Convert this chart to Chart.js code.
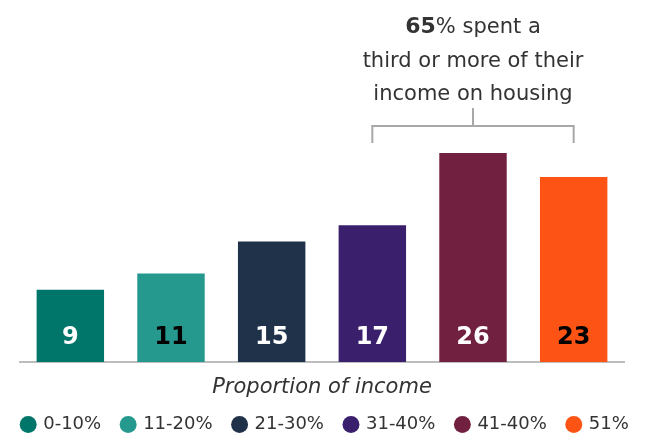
<!DOCTYPE html>
<html>
<head>
<meta charset="utf-8">
<script src="https://cdn.jsdelivr.net/npm/chart.js@4/dist/chart.umd.min.js"></script>
<style>
  html, body { margin: 0; padding: 0; background: #fff; }
  #wrap { width: 651px; height: 435px; position: relative; }
</style>
</head>
<body>
<div id="wrap"><canvas id="c"></canvas></div>
<script>
// ---- data ----
const categories = ['0-10%', '11-20%', '21-30%', '31-40%', '41-40%', '51%'];
const shares = [9, 11, 15, 17, 26, 23];
const highlightValue = '65';
const highlightLines = ['% spent a', 'third or more of their', 'income on housing'];
const highlightFrom = 3, highlightMid = 4, highlightTo = 5;
const axisTitle = 'Proportion of income';

// ---- styles ----
const barColors = ['#00766A', '#26998F', '#1F3249', '#3A1F6D', '#72203F', '#FD5416'];
const labelColors = ['#ffffff', '#000000', '#ffffff', '#ffffff', '#ffffff', '#000000'];
const FONT = '"DejaVu Sans", sans-serif';
const TEXT = '#333333';

const annotationPlugin = {
  id: 'annot',
  afterDatasetsDraw(chart) {
    const ctx = chart.ctx;
    const meta = chart.getDatasetMeta(0);
    // value labels
    ctx.save();
    ctx.font = 'bold 24px ' + FONT;
    ctx.textAlign = 'center';
    ctx.textBaseline = 'alphabetic';
    meta.data.forEach((bar, i) => {
      ctx.fillStyle = labelColors[i];
      ctx.fillText(String(shares[i]), bar.x, bar.base - 18);
    });
    ctx.restore();

    // bracket
    const xs = chart.scales.x;
    const top = chart.chartArea.top;
    const x1 = xs.getPixelForValue(highlightFrom);
    const x2 = xs.getPixelForValue(highlightTo);
    const xm = xs.getPixelForValue(highlightMid);
    ctx.save();
    ctx.strokeStyle = '#a8a8a8';
    ctx.lineWidth = 2;
    ctx.beginPath();
    ctx.moveTo(x1, top - 10);
    ctx.lineTo(x1, top - 27);
    ctx.lineTo(x2, top - 27);
    ctx.lineTo(x2, top - 10);
    ctx.moveTo(xm, top - 27);
    ctx.lineTo(xm, top - 45);
    ctx.stroke();
    ctx.restore();

    // text
    ctx.save();
    ctx.fillStyle = TEXT;
    ctx.textBaseline = 'alphabetic';
    ctx.textAlign = 'left';
    const boldFont = 'bold 22px ' + FONT;
    const regFont = '21px ' + FONT;
    ctx.font = boldFont;
    const wb = ctx.measureText(highlightValue).width;
    ctx.font = regFont;
    const wr = ctx.measureText(highlightLines[0]).width;
    let sx = xm - (wb + wr) / 2;
    ctx.font = boldFont;
    ctx.fillText(highlightValue, sx, top - 120);
    ctx.font = regFont;
    ctx.fillText(highlightLines[0], sx + wb, top - 120);
    ctx.textAlign = 'center';
    ctx.fillText(highlightLines[1], xm, top - 86);
    ctx.fillText(highlightLines[2], xm, top - 53);
    ctx.restore();
  }
};

new Chart(document.getElementById('c'), {
  type: 'bar',
  data: {
    labels: categories,
    datasets: [{
      data: shares,
      backgroundColor: barColors,
      borderWidth: 0,
      barPercentage: 0.67,
      categoryPercentage: 1.0,
      yAxisID: 'y'
    }]
  },
  options: {
    responsive: true,
    maintainAspectRatio: false,
    animation: false,
    layout: { padding: { top: 153, left: 0, right: 0, bottom: -8.5 } },
    scales: {
      x: {
        grid: { display: false, drawTicks: false },
        border: { display: true, color: '#bdbdbd', width: 2 },
        ticks: { display: false },
        title: {
          display: true,
          text: axisTitle,
          color: TEXT,
          font: { family: FONT, size: 21, style: 'italic' },
          padding: { top: 13.4, bottom: -6.1 }
        }
      },
      y: {
        display: true,
        position: 'left',
        min: 0,
        max: 26,
        grid: { display: false, drawTicks: false },
        border: { display: false },
        ticks: { display: false },
        afterFit(scale) { scale.width = 20; }
      },
      yRight: {
        display: true,
        position: 'right',
        grid: { display: false, drawTicks: false },
        border: { display: false },
        ticks: { display: false },
        afterFit(scale) { scale.width = 27; }
      }
    },
    plugins: {
      tooltip: { enabled: false },
      legend: {
        display: true,
        position: 'bottom',
        labels: {
          usePointStyle: true,
          pointStyle: 'circle',
          boxWidth: 12,
          boxHeight: 12,
          padding: 21,
          color: TEXT,
          font: { family: FONT, size: 18 },
          generateLabels(chart) {
            return categories.map((c, i) => ({
              text: c,
              fillStyle: barColors[i],
              strokeStyle: barColors[i],
              lineWidth: 0,
              pointStyle: 'circle',
              fontColor: TEXT,
              hidden: false,
              index: i
            }));
          }
        }
      }
    }
  },
  plugins: [annotationPlugin]
});
</script>
</body>
</html>
